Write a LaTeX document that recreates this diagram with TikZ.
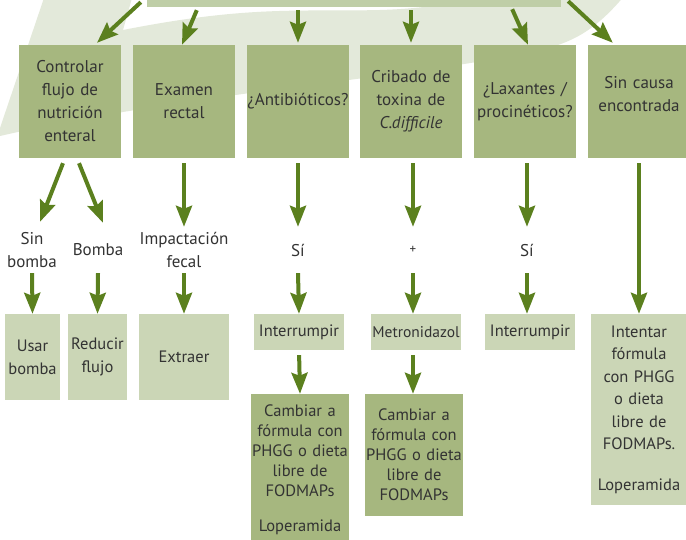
\documentclass[tikz,border=0pt]{standalone}
\usepackage{fontspec}
\setmainfont{PT Sans}
\usepackage{tikz}
\usetikzlibrary{arrows.meta,positioning,calc}
\usepackage{xcolor}
\definecolor{leafpale}{HTML}{E3E9DA}
\definecolor{causegreen}{HTML}{A6B77F}
\definecolor{actgreen}{HTML}{CBD6B6}
\definecolor{headgreen}{HTML}{BFCEA7}
\definecolor{arrowgreen}{HTML}{5B801E}
\definecolor{textgray}{HTML}{333333}
\hyphenpenalty=10000
\exhyphenpenalty=10000

\begin{document}
\begin{tikzpicture}[
  x=1pt, y=-1pt,
  font=\fontsize{17}{23}\selectfont,
  >={Stealth[length=21pt,width=16pt,inset=3pt]},
  causebox/.style={
    fill=causegreen,
    text=textgray,
    inner sep=0pt,
    align=center,
    text width=102pt,
    minimum height=113pt
  },
  actbox/.style={
    fill=actgreen,
    text=textgray,
    inner sep=0pt,
    align=center,
    font=\fontsize{16.5}{23}\selectfont
  },
  switchbox/.style={
    fill=causegreen,
    text=textgray,
    inner sep=0pt,
    align=center,
    text width=98pt,
    font=\fontsize{16.5}{20}\selectfont
  },
  outcome/.style={text=textgray, inner sep=0pt, align=center, minimum height=46pt},
  flow/.style={->, line width=4pt, arrowgreen}
]

  \useasboundingbox (0,0) rectangle (686,540);
  \fill[white] (0,0) rectangle (686,540);
  \clip (0,0) rectangle (686,540);

  % Background leaf
  \fill[leafpale] (44,-2) -- (132,-2) -- (123,30)
    .. controls (250,5) and (300,12) .. (380,10)
    .. controls (450,8) and (480,-5) .. (500,-5) -- (625,-5)
    .. controls (600,25) and (580,38) .. (555,46)
    .. controls (450,75) and (200,90) .. (0,136) -- (0,128) -- cycle;

  % Top banner (cut off)
  \node[fill=headgreen, minimum width=414pt, minimum height=40pt, inner sep=0pt] (top) at (354,-13) {};

  % --- ROW 1: CAUSES TO CHECK ---
  \node[causebox] (c1) at (70,101.5) {Controlar\\flujo de\\nutrición\\enteral};
  \node[causebox] (c2) at (184,101.5) {Examen\\rectal};
  \node[causebox] (c3) at (298,101.5) {¿Antibióticos?};
  \node[causebox] (c4) at (411,101.5) {Cribado de\\toxina de\\\textit{C.difficile}};
  \node[causebox] (c5) at (525,101.5) {¿Laxantes /\\procinéticos?};
  \node[causebox] (c6) at (639,101.5) {Sin causa\\encontrada\\[-8pt]\mbox{}};

  % --- ROW 2: FINDINGS ---
  \node[outcome] (l1) at (32,250) {Sin\\bomba};
  \node[outcome] (l2) at (98,250) {Bomba};
  \node[outcome] (l3) at (184,250) {Impactación\\fecal};
  \node[outcome] (l4) at (298,250) {Sí};
  \node[outcome, font=\fontsize{13}{23}\selectfont] (l5) at (413,250) {+};
  \node[outcome] (l6) at (527,250) {Sí};

  % --- ROW 3: ACTIONS ---
  \node[actbox, text width=55pt, minimum height=86pt] (b1) at (32.5,357) {Usar\\bomba};
  \node[actbox, text width=59pt, minimum height=86pt] (b2) at (97.5,357) {Reducir\\flujo};
  \node[actbox, text width=90pt, minimum height=86pt] (b3) at (184,357) {Extraer};
  \node[actbox, text width=90pt, minimum height=36pt] (b4) at (299,332) {Interrumpir};
  \node[actbox, text width=90pt, minimum height=36pt, font=\fontsize{15.5}{20}\selectfont] (b5) at (416,332) {Metronidazol};
  \node[actbox, text width=90pt, minimum height=36pt] (b6) at (530,332) {Interrumpir};
  \node[actbox, text width=96pt, minimum height=191pt, font=\fontsize{16.5}{22.5}\selectfont] (b7) at (639,409.5)
    {Intentar\\fórmula\\con PHGG\\o dieta\\libre de\\FODMAPs.\\[18pt]Loperamida};

  % --- ROW 4: FORMULA SWITCH ---
  \node[switchbox, minimum height=151pt] (d1) at (300,469.5)
    {Cambiar a\\fórmula con\\PHGG o dieta\\libre de\\FODMAPs\\[15pt]Loperamida};
  \node[switchbox, minimum height=122pt] (d2) at (414,455)
    {Cambiar a\\fórmula con\\PHGG o dieta\\libre de\\FODMAPs};

  % Arrows out of the banner
  \draw[flow] ([xshift=-6pt,yshift=5pt]top.south west) -- ([xshift=27pt,yshift=2pt]c1.north);
  \draw[flow] ([xshift=50pt,yshift=-3pt]top.south west) -- ([xshift=-2pt]c2.north);
  \draw[flow] ($(c3.north |- top.south)+(0,3)$) -- ($(c3.north)+(0,-2)$);
  \draw[flow] ($(c4.north |- top.south)+(0,3)$) -- ($(c4.north)+(0,-2)$);
  \draw[flow] ([xshift=-49pt,yshift=-2pt]top.south east) -- ([xshift=3pt]c5.north);
  \draw[flow] ([xshift=7pt,yshift=6pt]top.south east) -- ([xshift=25pt,yshift=2pt]c6.north west);

  % Column arrows
  \draw[flow] ([xshift=-7pt,yshift=-5pt]c1.south) -- ([xshift=8pt,yshift=5pt]l1.north);
  \draw[flow] ([xshift=9pt,yshift=-5pt]c1.south) -- ([xshift=5pt,yshift=4pt]l2.north);
  \draw[flow] (l1.south) -- (b1.north);
  \draw[flow] (l2.south) -- (b2.north);
  \draw[flow, shorten <=5pt] (c2.south) -- (l3.north);
  \draw[flow] (l3.south) -- (b3.north);
  \draw[flow, shorten <=5pt] (c3.south) -- (l4.north);
  \draw[flow] (l4.south) -- (b4.north);
  \draw[flow, shorten <=5pt] (b4.south) -- (d1.north);
  \draw[flow, shorten <=5pt] (c4.south -| l5) -- (l5.north);
  \draw[flow] (l5.south) -- (l5.south |- b5.north);
  \draw[flow, shorten <=5pt] (l5 |- b5.south) -- (l5 |- d2.north);
  \draw[flow, shorten <=5pt] (c5.south -| l6) -- (l6.north);
  \draw[flow] (l6.south) -- (l6.south |- b6.north);
  \draw[flow, shorten <=5pt] (c6.south) -- (b7.north);

\end{tikzpicture}
\end{document}
